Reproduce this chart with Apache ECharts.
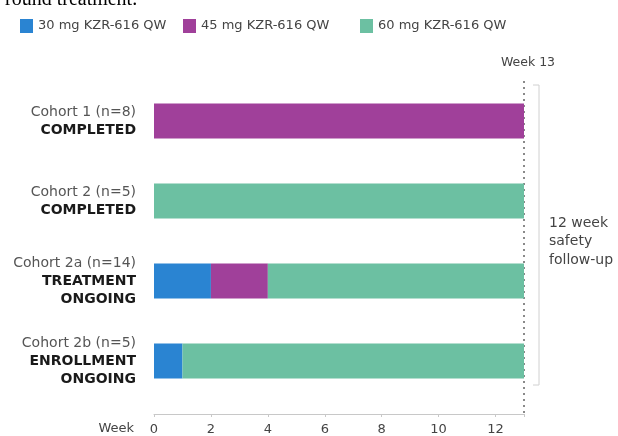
<!DOCTYPE html>
<html>
<head>
<meta charset="utf-8">
<script src="https://cdn.jsdelivr.net/npm/echarts@6/dist/echarts.min.js"></script>
<style>
    html, body { margin: 0; padding: 0; background: #fff; }
    #chart { width: 618px; height: 436px; }
</style>
</head>
<body>
<div id="chart"></div>
<script>
// cohorts, top to bottom
let cohortNames = ["Cohort 1 (n=8)", "Cohort 2 (n=5)", "Cohort 2a (n=14)", "Cohort 2b (n=5)"];
let cohortStatus = ["COMPLETED", "COMPLETED", "TREATMENT\nONGOING", "ENROLLMENT\nONGOING"];
// weeks on each dose (stacked)
let dose30 = [0, 0, 2, 1];
let dose45 = [13, 0, 2, 0];
let dose60 = [0, 13, 9, 12];
let seriesNames = ["30 mg KZR-616 QW", "45 mg KZR-616 QW", "60 mg KZR-616 QW"];
let weekTicks = [0, 2, 4, 6, 8, 10, 12];
let followUpWeek = 13;

let colors = ["#2a84d2", "#a0409a", "#6cc0a2"];
let font = "'DejaVu Sans', sans-serif";
let gridTop = 81;
let gridBottomGap = 35;
let axisOffset = 13;

let chart = echarts.init(document.getElementById("chart"));

let categories = cohortNames.map((n, i) => n + "\n" + cohortStatus[i]);

function legendAt(name, left) {
    return {
        data: [name],
        left: left,
        top: 14,
        itemWidth: 13,
        itemHeight: 14,
        itemGap: 8,
        icon: "rect",
        textStyle: { fontFamily: font, fontSize: 13, color: "#444" }
    };
}

let option = {
    animation: false,
    color: colors,
    title: {
        text: "round treatment.",
        left: 0,
        top: -15,
        textStyle: {
            fontFamily: "'Liberation Serif', serif",
            fontWeight: "normal",
            fontSize: 20,
            color: "#000"
        }
    },
    legend: [
        legendAt(seriesNames[0], 15),
        legendAt(seriesNames[1], 178),
        legendAt(seriesNames[2], 355)
    ],
    grid: {
        left: 154,
        right: 94,
        top: gridTop,
        bottom: gridBottomGap,
        outerBoundsMode: "none"
    },
    xAxis: {
        type: "value",
        min: 0,
        max: followUpWeek,
        interval: 2,
        offset: axisOffset,
        name: "Week",
        nameLocation: "start",
        nameGap: 20,
        nameTextStyle: {
            fontFamily: font,
            fontSize: 13,
            color: "#444",
            verticalAlign: "top",
            padding: [8, 0, 0, 0]
        },
        axisLine: { show: true, lineStyle: { color: "#c8c8c8" } },
        axisTick: { show: true, length: 3, lineStyle: { color: "#c8c8c8" } },
        splitLine: { show: false },
        axisLabel: {
            fontFamily: font,
            fontSize: 13,
            color: "#444",
            margin: 9,
            formatter: v => (weekTicks.indexOf(v) >= 0 ? String(v) : "")
        }
    },
    yAxis: {
        type: "category",
        inverse: true,
        data: categories,
        axisLine: { show: false },
        axisTick: { show: false },
        axisLabel: {
            margin: 18,
            align: "right",
            formatter: function(value) {
                let parts = value.split("\n");
                let out = "{n|" + parts[0] + "}";
                for (let i = 1; i < parts.length; i++) {
                    out += "\n{s|" + parts[i] + "}";
                }
                return out;
            },
            rich: {
                n: { fontFamily: font, fontSize: 14, color: "#555", lineHeight: 18, align: "right" },
                s: { fontFamily: font, fontSize: 14, fontWeight: "bold", color: "#1a1a1a", lineHeight: 18, align: "right" }
            }
        }
    },
    series: [
        { name: seriesNames[0], type: "bar", stack: "dose", barWidth: 35, data: dose30 },
        { name: seriesNames[1], type: "bar", stack: "dose", barWidth: 35, data: dose45 },
        { name: seriesNames[2], type: "bar", stack: "dose", barWidth: 35, data: dose60 }
    ]
};

chart.setOption(option, true);

// week 13 reference line and follow-up bracket, placed through the axis scale
let x13 = chart.convertToPixel({ xAxisIndex: 0 }, followUpWeek);
let axisY = 436 - gridBottomGap + axisOffset;
let topCat = chart.convertToPixel({ yAxisIndex: 0 }, categories[0]);
let lastCat = chart.convertToPixel({ yAxisIndex: 0 }, categories[categories.length - 1]);
let bx = x13 + 15;

chart.setOption({
    graphic: [
        {
            type: "line",
            shape: { x1: x13, y1: gridTop, x2: x13, y2: axisY },
            style: { stroke: "#8a8a8a", lineWidth: 2, lineDash: [2, 4] }
        },
        {
            type: "text",
            x: x13 + 4,
            y: gridTop - 25,
            style: {
                text: "Week " + followUpWeek,
                align: "center",
                fontFamily: font,
                fontSize: 12.5,
                fill: "#444"
            }
        },
        {
            type: "polyline",
            shape: { points: [[bx - 6, topCat - 36], [bx, topCat - 36], [bx, lastCat + 24], [bx - 6, lastCat + 24]] },
            style: { stroke: "#d0d0d0", lineWidth: 1, fill: null }
        },
        {
            type: "text",
            x: bx + 10,
            y: (topCat + lastCat) / 2 - 27,
            style: {
                text: "12 week\nsafety\nfollow-up",
                fontFamily: font,
                fontSize: 14,
                lineHeight: 18.5,
                fill: "#444"
            }
        }
    ]
});
</script>
</body>
</html>
